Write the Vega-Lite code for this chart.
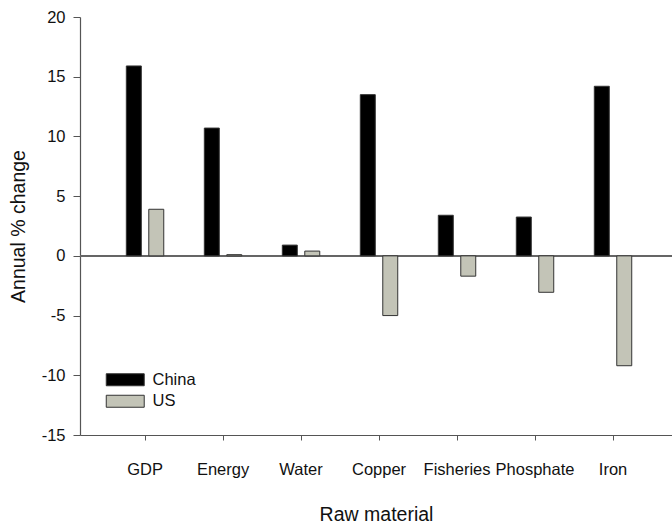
{
  "$schema": "https://vega.github.io/schema/vega-lite/v6.json",
  "width": 592,
  "height": 418,
  "autosize": {"type": "none"},
  "padding": {"left": 80, "top": 17, "right": 0, "bottom": 89},
  "background": "white",
  "config": {
    "view": {"stroke": null},
    "font": "Liberation Sans",
    "axis": {"domainColor": "#555555", "tickColor": "#555555", "labelColor": "#111111", "titleColor": "#111111", "grid": false, "titleFontWeight": "normal"}
  },
  "data": {
    "values": [
      {"material": "GDP", "country": "China", "change": 15.9},
      {"material": "GDP", "country": "US", "change": 3.9},
      {"material": "Energy", "country": "China", "change": 10.7},
      {"material": "Energy", "country": "US", "change": 0.1},
      {"material": "Water", "country": "China", "change": 0.9},
      {"material": "Water", "country": "US", "change": 0.4},
      {"material": "Copper", "country": "China", "change": 13.5},
      {"material": "Copper", "country": "US", "change": -5.0},
      {"material": "Fisheries", "country": "China", "change": 3.4},
      {"material": "Fisheries", "country": "US", "change": -1.7},
      {"material": "Phosphate", "country": "China", "change": 3.25},
      {"material": "Phosphate", "country": "US", "change": -3.05},
      {"material": "Iron", "country": "China", "change": 14.2},
      {"material": "Iron", "country": "US", "change": -9.2}
    ]
  },
  "layer": [
    {
      "mark": {"type": "rule", "color": "#666666", "strokeWidth": 1.2},
      "encoding": {"y": {"datum": 0, "type": "quantitative"}}
    },
    {
      "mark": {"type": "bar", "stroke": "#333333", "strokeWidth": 1},
      "encoding": {
        "x": {
          "field": "material",
          "type": "nominal",
          "sort": ["GDP", "Energy", "Water", "Copper", "Fisheries", "Phosphate", "Iron"],
          "scale": {"paddingInner": 0.52, "paddingOuter": 0.555, "align": 0.535},
          "axis": {"title": "Raw material", "labelAngle": 0, "tickSize": 5, "labelPadding": 21, "labelFontSize": 16.5, "titleFontSize": 19.5, "titlePadding": 28, "domainWidth": 1.2}
        },
        "xOffset": {
          "field": "country",
          "type": "nominal",
          "scale": {"paddingInner": 0.333, "paddingOuter": 0}
        },
        "y": {
          "field": "change",
          "type": "quantitative",
          "scale": {"domain": [-15, 20], "nice": false},
          "axis": {"title": "Annual % change", "values": [-15, -10, -5, 0, 5, 10, 15, 20], "labelExpr": "toString(datum.value)", "tickSize": 7, "labelPadding": 8, "labelFontSize": 16.5, "titleFontSize": 19.5, "titlePadding": 13, "domainWidth": 1.2}
        },
        "color": {
          "field": "country",
          "type": "nominal",
          "scale": {"domain": ["China", "US"], "range": ["#000000", "#c3c4b7"]},
          "legend": {
            "title": null,
            "orient": "none",
            "legendX": 24,
            "legendY": 354.5,
            "symbolType": "M-1,-1H5.33V1H-1Z",
            "symbolSize": 144,
            "symbolStrokeColor": "#333333",
            "symbolStrokeWidth": 1,
            "labelFontSize": 16.5,
            "labelColor": "#111111",
            "rowPadding": 4.5,
            "labelOffset": 32
          }
        }
      }
    }
  ]
}
